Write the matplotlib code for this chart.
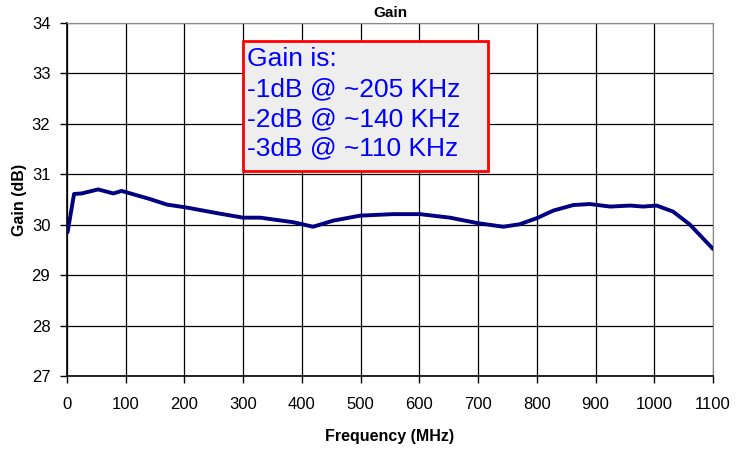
import matplotlib
matplotlib.use("Agg")
import matplotlib.pyplot as plt
from matplotlib.patches import Rectangle

plt.rcParams['font.family'] = ['Liberation Sans', 'DejaVu Sans']

# frequency (MHz) and gain (dB)
freq = [1, 12, 25, 53, 79, 93, 102, 141, 170, 204, 260, 300, 329, 385, 419,
        453, 499, 555, 601, 652, 700, 743, 771, 800, 828, 862, 890, 925, 959,
        981, 1004, 1032, 1060, 1100]
gain = [29.85, 30.61, 30.62, 30.70, 30.62, 30.67, 30.64, 30.51, 30.40, 30.34,
        30.22, 30.14, 30.14, 30.05, 29.96, 30.08, 30.18, 30.21, 30.21, 30.14,
        30.03, 29.96, 30.01, 30.13, 30.28, 30.39, 30.41, 30.36, 30.38, 30.36,
        30.38, 30.26, 30.01, 29.52]

note_lines = ["Gain is:", "-1dB @ ~205 KHz", "-2dB @ ~140 KHz", "-3dB @ ~110 KHz"]

fig = plt.figure(figsize=(7.51, 4.5), dpi=100)
ax = fig.add_axes([0.0892, 0.1644, 0.8602, 0.7845])

ax.plot(freq, gain, color='#000080', lw=2.8, solid_capstyle='round', zorder=3)

ax.set_xlim(0, 1100)
ax.set_ylim(27, 34)
ax.set_xticks(range(0, 1101, 100))
ax.set_yticks(range(27, 35))
ax.grid(True, color='black', lw=0.9)
ax.set_axisbelow(True)
ax.tick_params(direction='out', length=5, width=1, labelsize=12)
ax.tick_params(axis='x', pad=10)
ax.tick_params(axis='y', pad=7)
for side in ['top', 'right']:
    ax.spines[side].set_color('#888888')
for side in ['left', 'bottom']:
    ax.spines[side].set_linewidth(1.2)

ax.set_title("Gain", fontsize=11, fontweight='bold', pad=4)
ax.set_xlabel("Frequency (MHz)", fontsize=11.5, fontweight='bold', labelpad=12)
ax.set_ylabel("Gain (dB)", fontsize=11.5, fontweight='bold', labelpad=3)

# annotation box
ax.add_patch(Rectangle((300, 31.07), 417, 2.57, facecolor='#EEEEEE',
                       edgecolor='#FF0000', lw=2, zorder=4))
y0 = 33.28
for i, line in enumerate(note_lines):
    ax.text(307, y0 - i * 0.59, line, fontsize=19, color='#0000FF',
            va='center', ha='left', zorder=5)

fig.savefig("out.png", dpi=100)
